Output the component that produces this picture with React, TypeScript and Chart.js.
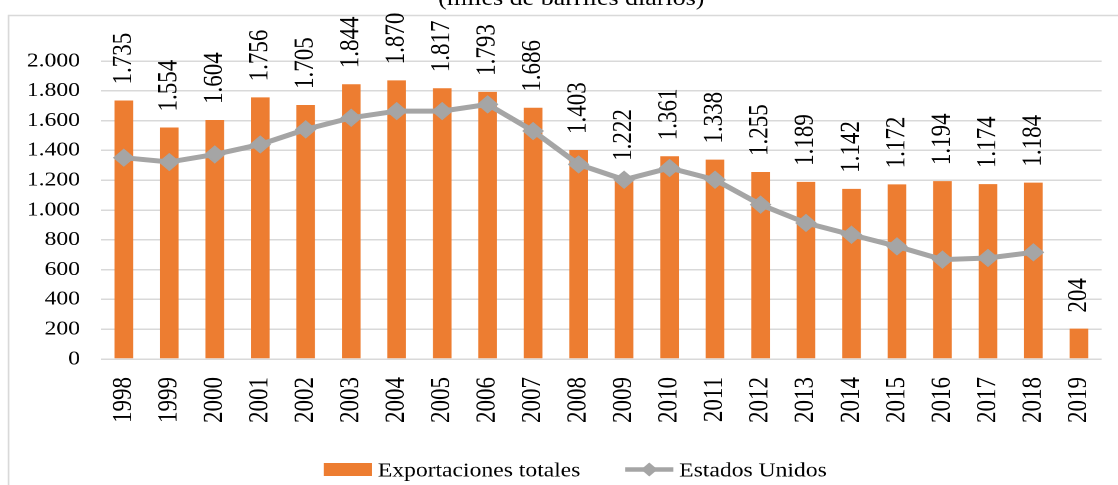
import React, { useEffect, useRef } from 'react';
import { Chart, registerables } from 'chart.js';

Chart.register(...registerables);

// ---- data ----
const years = ['1998', '1999', '2000', '2001', '2002', '2003', '2004', '2005', '2006', '2007', '2008', '2009', '2010', '2011', '2012', '2013', '2014', '2015', '2016', '2017', '2018', '2019'];
const totalExports = [1735, 1554, 1604, 1756, 1705, 1844, 1870, 1817, 1793, 1686, 1403, 1222, 1361, 1338, 1255, 1189, 1142, 1172, 1194, 1174, 1184, 204];
const usExports: (number | null)[] = [1351, 1322, 1373, 1440, 1541, 1619, 1664, 1664, 1709, 1530, 1306, 1203, 1282, 1203, 1036, 913, 834, 756, 667, 678, 716, null];
const seriesNames = ['Exportaciones totales', 'Estados Unidos'];
const titleText = '(miles de barriles diarios)';
const yMin = 0;
const yMax = 2000;
const yStep = 200;

// ---- styling / layout ----
const STRETCH = 1.18;
const PAGE_W = 1118;
const PAGE_H = 485;
const W = PAGE_W / STRETCH;
const FONT = "'Liberation Serif', 'Times New Roman', serif";
const ORANGE = '#ed7d31';
const GRAY = '#a5a5a5';
const GRID = '#d9d9d9';

const fmt = (v: number) => String(Math.round(v)).replace(/\B(?=(\d{3})+(?!\d))/g, '.');

const framePlugin = {
  id: 'frameAndTitle',
  beforeDraw(chart: any) {
    const ctx = chart.ctx;
    ctx.save();
    ctx.strokeStyle = GRID;
    ctx.lineWidth = 1.5;
    ctx.strokeRect(8.5 / STRETCH, 15.5, W + 50, PAGE_H + 50);
    ctx.fillStyle = '#000';
    ctx.font = `22px ${FONT}`;
    ctx.textAlign = 'center';
    ctx.textBaseline = 'alphabetic';
    ctx.fillText(titleText, 571 / STRETCH, 5);
    ctx.restore();
  },
};

const dataLabelPlugin = {
  id: 'barLabels',
  afterDatasetsDraw(chart: any) {
    const ctx = chart.ctx;
    const meta = chart.getDatasetMeta(0);
    const values = chart.data.datasets[0].data as number[];
    ctx.save();
    ctx.fillStyle = '#000';
    ctx.font = `23px ${FONT}`;
    ctx.textAlign = 'left';
    ctx.textBaseline = 'middle';
    meta.data.forEach((bar: any, i: number) => {
      ctx.save();
      ctx.translate(bar.x, bar.y - 16);
      ctx.rotate(-Math.PI / 2);
      ctx.fillText(fmt(values[i]), 0, 0);
      ctx.restore();
    });
    ctx.restore();
  },
};

const legendPlugin = {
  id: 'customLegend',
  afterDraw(chart: any) {
    const ctx = chart.ctx;
    const ds = chart.data.datasets;
    ctx.save();
    ctx.font = `20px ${FONT}`;
    const t1 = ctx.measureText(ds[0].label).width;
    const t2 = ctx.measureText(ds[1].label).width;
    const boxW = 48 / STRETCH;
    const lineW = 48 / STRETCH;
    const gap = 5;
    const itemGap = 38;
    const total = boxW + gap + t1 + itemGap + lineW + gap + t2;
    let x = 575 / STRETCH - total / 2;
    const cy = 469.5;
    // bar item
    ctx.fillStyle = ds[0].backgroundColor;
    ctx.fillRect(x, cy - 6.5, boxW, 13);
    x += boxW + gap;
    ctx.fillStyle = '#000';
    ctx.textAlign = 'left';
    ctx.textBaseline = 'alphabetic';
    ctx.fillText(ds[0].label, x, cy + 7);
    x += t1 + itemGap;
    // line item
    ctx.strokeStyle = ds[1].borderColor;
    ctx.lineWidth = 4.5;
    ctx.beginPath();
    ctx.moveTo(x, cy);
    ctx.lineTo(x + lineW, cy);
    ctx.stroke();
    const mx = x + lineW / 2;
    const r = 7;
    ctx.fillStyle = ds[1].borderColor;
    ctx.beginPath();
    ctx.moveTo(mx - r, cy);
    ctx.lineTo(mx, cy - r);
    ctx.lineTo(mx + r, cy);
    ctx.lineTo(mx, cy + r);
    ctx.closePath();
    ctx.fill();
    x += lineW + gap;
    ctx.fillStyle = '#000';
    ctx.fillText(ds[1].label, x, cy + 7);
    ctx.restore();
  },
};

export default function App() {
  const canvasRef = useRef<HTMLCanvasElement | null>(null);

  useEffect(() => {
    if (!canvasRef.current) return;
    Chart.defaults.font.family = FONT;
    Chart.defaults.color = '#000';
    const chart = new Chart(canvasRef.current, {
      type: 'bar',
      data: {
        labels: years,
        datasets: [
          {
            type: 'bar',
            label: seriesNames[0],
            data: totalExports,
            backgroundColor: ORANGE,
            borderWidth: 0,
            barPercentage: 0.41,
            categoryPercentage: 1,
            order: 2,
          },
          {
            type: 'line',
            label: seriesNames[1],
            data: usExports,
            borderColor: GRAY,
            backgroundColor: GRAY,
            borderWidth: 5,
            pointStyle: 'rectRot',
            pointRadius: 8.5,
            pointBorderWidth: 1,
            pointBackgroundColor: GRAY,
            pointBorderColor: GRAY,
            tension: 0,
            order: 1,
          } as any,
        ],
      },
      options: {
        animation: false,
        responsive: true,
        maintainAspectRatio: false,
        devicePixelRatio: 2,
        layout: { padding: { left: 0, right: W - 1101 / STRETCH, top: 61, bottom: 0 } },
        plugins: {
          legend: { display: false },
          title: { display: false },
          tooltip: { enabled: false },
        },
        scales: {
          x: {
            grid: { display: false, drawTicks: false },
            border: { display: false },
            ticks: {
              autoSkip: false,
              maxRotation: 90,
              minRotation: 90,
              padding: 18,
              font: { size: 23, family: FONT },
              color: '#000',
            },
            afterFit(scale: any) {
              scale.height = PAGE_H - 359;
              scale.paddingLeft = 0;
              scale.paddingRight = 0;
            },
          },
          y: {
            min: yMin,
            max: yMax,
            grid: { color: GRID, lineWidth: 1.5, drawTicks: false },
            border: { display: false },
            ticks: {
              stepSize: yStep,
              padding: (101 - 80) / STRETCH,
              font: { size: 20, family: FONT },
              color: '#000',
              callback: (v: any) => fmt(Number(v)),
            },
            afterFit(scale: any) {
              scale.width = 101 / STRETCH;
              scale.paddingTop = 0;
              scale.paddingBottom = 0;
            },
          },
        },
      },
      plugins: [framePlugin, dataLabelPlugin, legendPlugin],
    });
    return () => chart.destroy();
  }, []);

  return (
    <div
      style={{
        position: 'absolute',
        left: 0,
        top: 0,
        width: `${W}px`,
        height: `${PAGE_H}px`,
        transform: `scaleX(${STRETCH})`,
        transformOrigin: '0 0',
      }}
    >
      <canvas ref={canvasRef} />
    </div>
  );
}
